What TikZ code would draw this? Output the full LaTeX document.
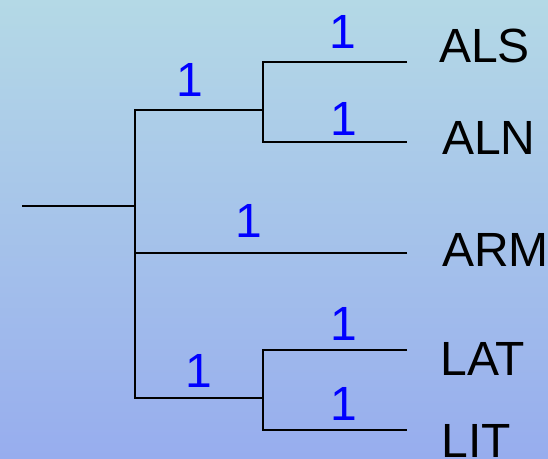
\documentclass[tikz,border=0pt]{standalone}
\usepackage{fontspec}
\setmainfont{Liberation Sans}
\definecolor{bgtop}{RGB}{180,217,230}
\definecolor{bgbot}{RGB}{151,173,238}
\definecolor{numblue}{RGB}{0,0,255}
\begin{document}
\begin{tikzpicture}[x=1pt,y=-1pt,
  br/.style={line width=1.9pt,black},
  leaf/.style={anchor=base west,inner sep=0pt,font=\fontsize{48}{50}\selectfont},
  num/.style={anchor=base,inner sep=0pt,text=numblue,font=\fontsize{48}{50}\selectfont}]
\shade[top color=bgtop,bottom color=bgbot] (0,0) rectangle (548,458);
\useasboundingbox (0,0) rectangle (548,458);
% tree junctions
\coordinate (root) at (22,206);
\coordinate (n0) at (135,206);
\coordinate (up) at (135,110);
\coordinate (lo) at (135,398);
\coordinate (n1) at (263,110);
\coordinate (n2) at (263,398);
\coordinate (als) at (407,62);
\coordinate (aln) at (407,142);
\coordinate (arm) at (407,253);
\coordinate (lat) at (407,350);
\coordinate (lit) at (407,430);
% branches
\draw[br] (root) -- (n0);
\draw[br] (n1) -- (up) |- (n2);
\draw[br] (arm) -- (arm -| n0);
\draw[br] (als) -| (n1) |- (aln);
\draw[br] (lat) -| (n2) |- (lit);
% leaf labels
\node[leaf] (tALS) at (439,62) {ALS};
\node[leaf] (tALN) at (442,154) {ALN};
\node[leaf] (tARM) at (442,266) {ARM};
\node[leaf] (tLAT) at (440.5,375) {LAT};
\node[leaf] (tLIT) at (441.5,457) {LIT};
% branch lengths
\node[num] (b1) at (343.3,48) {1};
\node[num] (b2) at (343.8,135) {1};
\node[num] (b3) at (189.8,96) {1};
\node[num] (b4) at (248.5,237) {1};
\node[num] (b5) at (198.5,387.5) {1};
\node[num] (b6) at (344.3,340) {1};
\node[num] (b7) at (344.3,420) {1};
\end{tikzpicture}
\end{document}
